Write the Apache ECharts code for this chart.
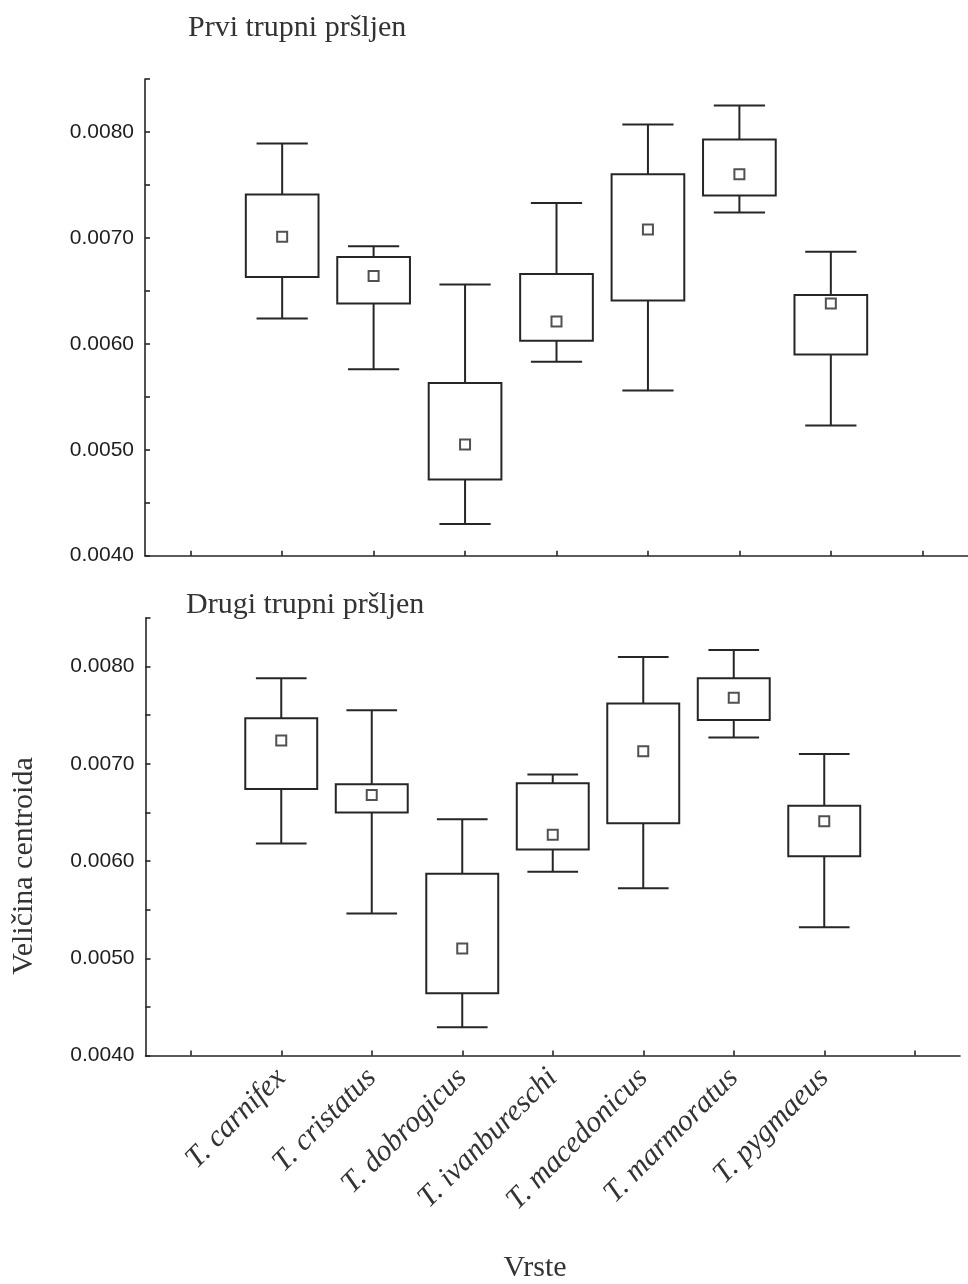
<!DOCTYPE html>
<html>
<head>
<meta charset="utf-8">
<script src="https://cdn.jsdelivr.net/npm/echarts@6/dist/echarts.min.js"></script>
<style>
  html, body { margin: 0; padding: 0; background: #ffffff; }
  #chart { width: 968px; height: 1284px; }
</style>
</head>
<body>
<div id="chart"></div>
<script>
// ---- Data ----
const species = ['T. carnifex', 'T. cristatus', 'T. dobrogicus', 'T. ivanbureschi', 'T. macedonicus', 'T. marmoratus', 'T. pygmaeus'];
const xTickValues = [0, 1, 2, 3, 4, 5, 6, 7, 8];
const xLabelValues = [1, 2, 3, 4, 5, 6, 7];

// Prvi trupni pršljen (first trunk vertebra)
const whiskerHigh1 = [0.00789, 0.00692, 0.00656, 0.00733, 0.00807, 0.00825, 0.00687];
const boxHigh1     = [0.00741, 0.00682, 0.00563, 0.00666, 0.00760, 0.00793, 0.00646];
const mean1        = [0.00701, 0.00664, 0.00505, 0.00621, 0.00708, 0.00760, 0.00638];
const boxLow1      = [0.00663, 0.00638, 0.00472, 0.00603, 0.00641, 0.00740, 0.00590];
const whiskerLow1  = [0.00624, 0.00576, 0.00430, 0.00583, 0.00556, 0.00724, 0.00523];

// Drugi trupni pršljen (second trunk vertebra)
const whiskerHigh2 = [0.00788, 0.00755, 0.00643, 0.00689, 0.00810, 0.00817, 0.00710];
const boxHigh2     = [0.00747, 0.00679, 0.00587, 0.00680, 0.00762, 0.00788, 0.00657];
const mean2        = [0.00724, 0.00668, 0.00510, 0.00627, 0.00713, 0.00768, 0.00641];
const boxLow2      = [0.00674, 0.00650, 0.00464, 0.00612, 0.00639, 0.00745, 0.00605];
const whiskerLow2  = [0.00618, 0.00546, 0.00429, 0.00589, 0.00572, 0.00727, 0.00532];

const yTickMin = 0.0040, yTickMax = 0.0085, yTickStep = 0.0005;

// ---- Chart ----
const INK = '#262626';
const chart = echarts.init(document.getElementById('chart'), null, { renderer: 'canvas' });

function boxData(lowW, lowB, highB, highW) {
  return species.map((s, i) => [i + 1, lowW[i], lowB[i], highB[i], highW[i]]);
}
function meanData(m) {
  return species.map((s, i) => [i + 1, m[i]]);
}

function renderBox(params, api) {
  const x = api.value(0);
  const pLowW = api.coord([x, api.value(1)]);
  const pLowB = api.coord([x, api.value(2)]);
  const pHighB = api.coord([x, api.value(3)]);
  const pHighW = api.coord([x, api.value(4)]);
  const boxW = api.size([0.795, 0])[0];
  const capW = api.size([0.56, 0])[0];
  const cx = pLowW[0];
  const st = { stroke: INK, lineWidth: 2, fill: null };
  return {
    type: 'group',
    children: [
      { type: 'line', shape: { x1: cx, y1: pHighW[1], x2: cx, y2: pHighB[1] }, style: st },
      { type: 'line', shape: { x1: cx, y1: pLowB[1], x2: cx, y2: pLowW[1] }, style: st },
      { type: 'line', shape: { x1: cx - capW / 2, y1: pHighW[1], x2: cx + capW / 2, y2: pHighW[1] }, style: st },
      { type: 'line', shape: { x1: cx - capW / 2, y1: pLowW[1], x2: cx + capW / 2, y2: pLowW[1] }, style: st },
      { type: 'rect', shape: { x: cx - boxW / 2, y: pHighB[1], width: boxW, height: pLowB[1] - pHighB[1] },
        style: { stroke: INK, lineWidth: 2, fill: '#ffffff' } }
    ]
  };
}

function xAxisCfg(gridIndex, showLabels) {
  return {
    type: 'value', gridIndex: gridIndex, min: -0.5, max: 8.5,
    axisLine: { show: true, onZero: false, lineStyle: { color: INK, width: 1.6 } },
    axisTick: { show: true, inside: true, length: 5, customValues: xTickValues, lineStyle: { color: INK, width: 1.6 } },
    splitLine: { show: false },
    axisLabel: showLabels ? {
      show: true, customValues: xLabelValues,
      formatter: v => species[Math.round(v) - 1] || '',
      rotate: 45, margin: 18,
      fontFamily: 'Liberation Serif', fontStyle: 'italic', fontSize: 30, color: '#333'
    } : { show: false }
  };
}

function yAxisCfg(gridIndex) {
  return {
    type: 'value', gridIndex: gridIndex, min: yTickMin, max: yTickMax, interval: yTickStep,
    axisLine: { show: true, onZero: false, lineStyle: { color: INK, width: 1.6 } },
    axisTick: { show: true, inside: true, length: 5, lineStyle: { color: INK, width: 1.6 } },
    splitLine: { show: false },
    axisLabel: {
      margin: 11, fontFamily: 'Liberation Sans', fontSize: 21, color: '#1e1e1e',
      formatter: v => (Math.round(v * 10000) % 10 === 0 && Math.abs(v - yTickMax) > 1e-9) ? v.toFixed(4) : ''
    }
  };
}

const titleFont = { fontFamily: 'Liberation Serif', fontSize: 30, fill: '#333' };

const option = {
  backgroundColor: '#ffffff',
  animation: false,
  grid: [
    { left: 145, top: 79, width: 829, height: 476.7 },
    { left: 145.5, top: 618, width: 814.5, height: 437.5 }
  ],
  xAxis: [xAxisCfg(0, false), xAxisCfg(1, true)],
  yAxis: [yAxisCfg(0), yAxisCfg(1)],
  graphic: [
    { type: 'text', x: 188, y: 28, style: Object.assign({ text: 'Prvi trupni pršljen', textAlign: 'left', textVerticalAlign: 'middle' }, titleFont) },
    { type: 'text', x: 186, y: 605, style: Object.assign({ text: 'Drugi trupni pršljen', textAlign: 'left', textVerticalAlign: 'middle' }, titleFont) },
    { type: 'text', x: 24, y: 866, rotation: Math.PI / 2, style: Object.assign({ text: 'Veličina centroida', textAlign: 'center', textVerticalAlign: 'middle' }, titleFont) },
    { type: 'text', x: 535, y: 1268, style: Object.assign({ text: 'Vrste', textAlign: 'center', textVerticalAlign: 'middle' }, titleFont) }
  ],
  series: [
    { type: 'custom', xAxisIndex: 0, yAxisIndex: 0, renderItem: renderBox, encode: { x: 0, y: [1, 2, 3, 4] },
      data: boxData(whiskerLow1, boxLow1, boxHigh1, whiskerHigh1), z: 2 },
    { type: 'scatter', xAxisIndex: 0, yAxisIndex: 0, symbol: 'rect', symbolSize: 10,
      itemStyle: { color: '#ffffff', borderColor: INK, borderWidth: 2 }, data: meanData(mean1), z: 3 },
    { type: 'custom', xAxisIndex: 1, yAxisIndex: 1, renderItem: renderBox, encode: { x: 0, y: [1, 2, 3, 4] },
      data: boxData(whiskerLow2, boxLow2, boxHigh2, whiskerHigh2), z: 2 },
    { type: 'scatter', xAxisIndex: 1, yAxisIndex: 1, symbol: 'rect', symbolSize: 10,
      itemStyle: { color: '#ffffff', borderColor: INK, borderWidth: 2 }, data: meanData(mean2), z: 3 }
  ]
};
chart.setOption(option);
</script>
</body>
</html>
